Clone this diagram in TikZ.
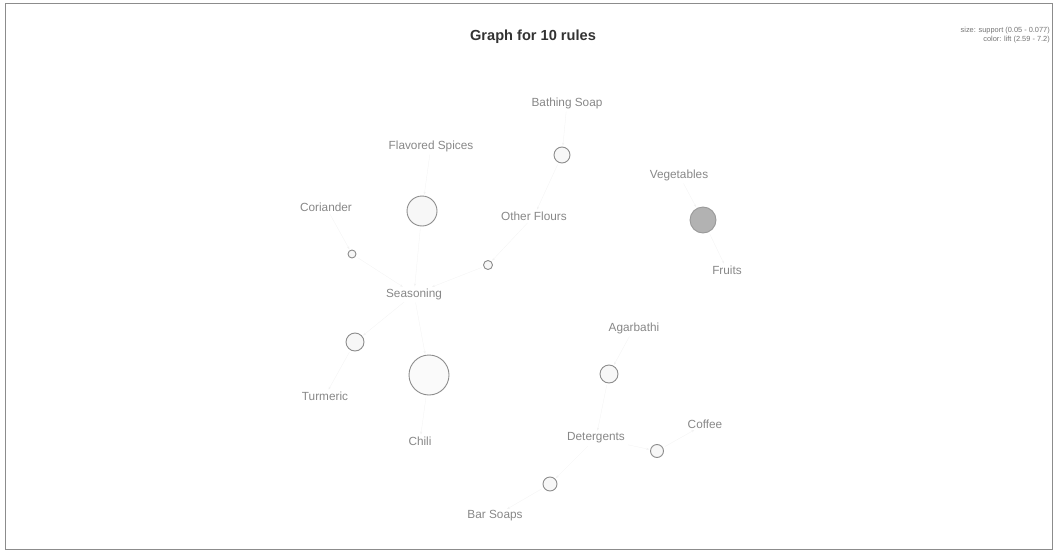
\documentclass[tikz,border=0pt]{standalone}
\usepackage{fontspec}
\setmainfont{Liberation Sans}
\usepackage{tikz}
\usetikzlibrary{arrows.meta,positioning}
\definecolor{itm}{RGB}{135,135,135}
\definecolor{rul}{RGB}{140,140,140}
\definecolor{hot}{RGB}{178,178,178}
\definecolor{edg}{RGB}{242,242,242}

\begin{document}
\begin{tikzpicture}[x=1pt,y=-1pt,
  every node/.style={font=\fontsize{11.8}{13}\selectfont},
  it/.style={text=itm,inner sep=1pt},
  ru/.style={draw=rul,circle,inner sep=0pt,line width=0.9pt,fill=black!3},
  hi/.style={fill=hot,draw=black!40},
  ed/.style={draw=edg,line width=0.3pt,-{Stealth[length=3pt]},shorten <=2pt,shorten >=1pt}]
\useasboundingbox (0,0) rectangle (1058,554);
\draw[black!45,line width=1pt] (5,3) rectangle (1052,549);
\node[font=\bfseries\fontsize{14.6}{16}\selectfont,text=black!80] (title) at (533,37) {Graph for 10 rules};
\node[anchor=east,font=\fontsize{7.4}{8}\selectfont,text=black!55,inner sep=0pt] (lg1) at (1050,31) {size: support (0.05 - 0.077)};
\node[anchor=east,font=\fontsize{7.4}{8}\selectfont,text=black!55,inner sep=0pt] (lg2) at (1050,40) {color: lift (2.59 - 7.2)};
% items
\node[it] (bat) at (567,103) {Bathing Soap};
\node[it] (fsp) at (431,146) {Flavored Spices};
\node[it] (veg) at (679,175) {Vegetables};
\node[it] (cor) at (326,207) {Coriander};
\node[it] (ofl) at (534,216) {Other Flours};
\node[it] (fru) at (727,270) {Fruits};
\node[it] (sea) at (414,294) {Seasoning};
\node[it] (aga) at (634,328) {Agarbathi};
\node[it] (tur) at (325,396) {Turmeric};
\node[it] (chi) at (420,441) {Chili};
\node[it] (det) at (596,438) {Detergents};
\node[it] (cof) at (705,424) {Coffee};
\node[it] (bar) at (495,516) {Bar Soaps};
% rules
\node[ru,minimum size=16pt] (r1) at (562,155) {};
\node[ru,minimum size=30pt] (r2) at (422,211) {};
\node[ru,hi,minimum size=26pt] (r3) at (703,220) {};
\node[ru,minimum size=8pt] (r4) at (352,254) {};
\node[ru,minimum size=9pt] (r5) at (488,265) {};
\node[ru,minimum size=18pt] (r6) at (355,342) {};
\node[ru,minimum size=40pt,fill=black!2] (r7) at (429,375) {};
\node[ru,minimum size=18pt] (r8) at (609,374) {};
\node[ru,minimum size=13pt] (r9) at (657,451) {};
\node[ru,minimum size=14pt] (r10) at (550,484) {};
% edges
\draw[ed] (bat) -- (r1);  \draw[ed] (r1) -- (ofl);
\draw[ed] (fsp) -- (r2);  \draw[ed] (r2) -- (sea);
\draw[ed] (veg) -- (r3);  \draw[ed] (r3) -- (fru);
\draw[ed] (cor) -- (r4);  \draw[ed] (r4) -- (sea);
\draw[ed] (ofl) -- (r5);  \draw[ed] (r5) -- (sea);
\draw[ed] (sea) -- (r6);  \draw[ed] (r6) -- (tur);
\draw[ed] (sea) -- (r7);  \draw[ed] (r7) -- (chi);
\draw[ed] (aga) -- (r8);  \draw[ed] (r8) -- (det);
\draw[ed] (det) -- (r9);  \draw[ed] (r9) -- (cof);
\draw[ed] (det) -- (r10); \draw[ed] (r10) -- (bar);
\end{tikzpicture}
\end{document}
